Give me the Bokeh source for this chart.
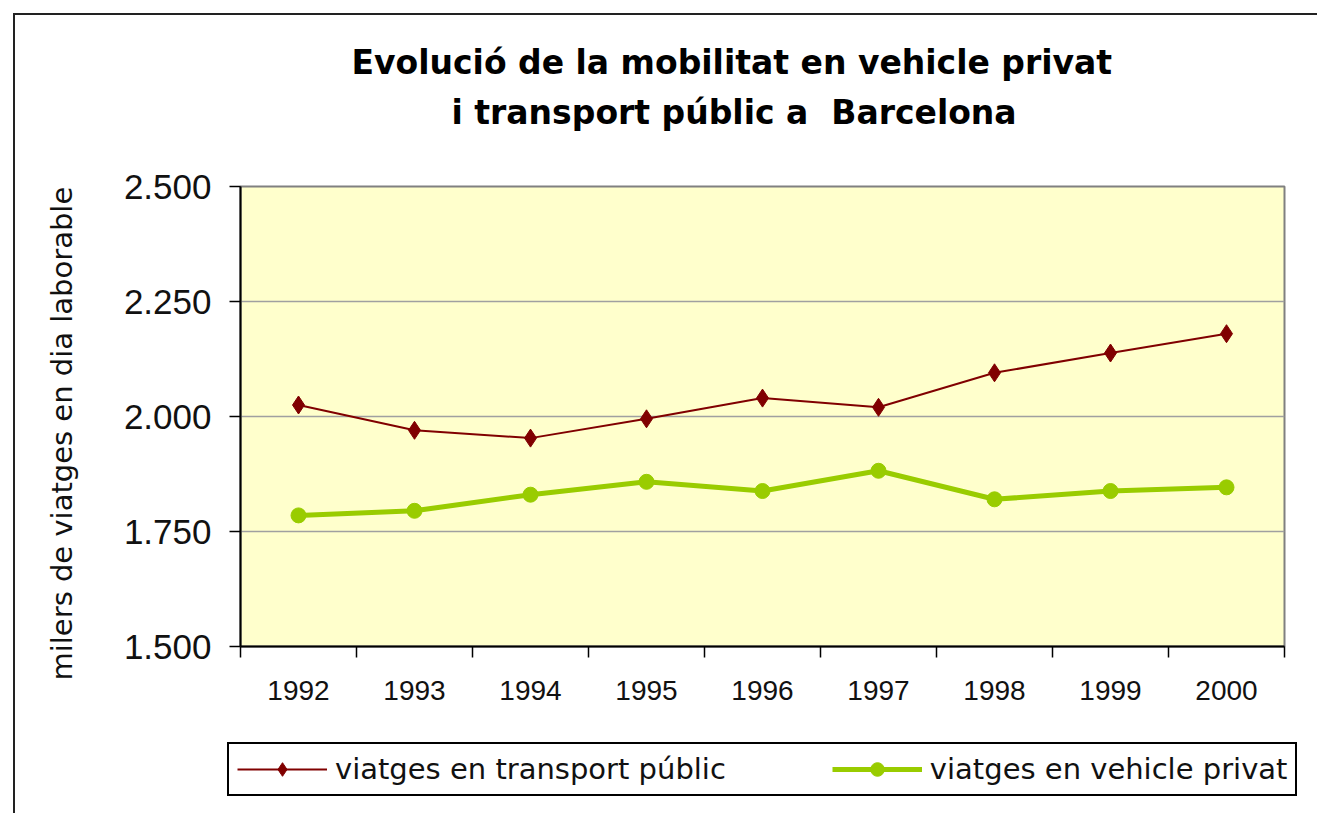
from bokeh.plotting import figure
from bokeh.layouts import column
from bokeh.models import FixedTicker, Legend, LegendItem, Range1d, Title
from bokeh.embed import file_html
from bokeh.resources import INLINE

# ---- data ----
years = [1992, 1993, 1994, 1995, 1996, 1997, 1998, 1999, 2000]
transport_public = [2025, 1970, 1953, 1995, 2040, 2020, 2095, 2138, 2180]
vehicle_privat = [1785, 1795, 1830, 1858, 1838, 1882, 1820, 1838, 1846]
y_ticks = [1500, 1750, 2000, 2250, 2500]
y_tick_labels = ["1.500", "1.750", "2.000", "2.250", "2.500"]
title_lines = ["Evolució de la mobilitat en vehicle privat",
               "i transport públic a\u00a0 Barcelona"]
y_label = "milers de viatges en dia laborable"
series_names = ["viatges en transport públic", "viatges en vehicle privat"]

COL_PUB = "#800000"
COL_PRIV = "#99CC00"

# ---- main figure ----
p = figure(width=1317, height=720,
           x_range=Range1d(years[0] - 0.5, years[-1] + 0.5),
           y_range=Range1d(y_ticks[0], y_ticks[-1]),
           output_backend="svg", toolbar_location=None,
           min_border_left=240, min_border_right=33,
           min_border_top=186, min_border_bottom=74,
           background_fill_color="#FFFFCC", border_fill_alpha=0,
           outline_line_color="#808080", outline_line_width=2)
p.frame_align = False

# y axis
yt = FixedTicker(ticks=y_ticks, minor_ticks=[])
p.yaxis.ticker = yt
p.yaxis.major_label_overrides = {t: l for t, l in zip(y_ticks, y_tick_labels)}
p.yaxis.axis_line_color = "black"
p.yaxis.axis_line_width = 2
p.yaxis.major_tick_out = 11
p.yaxis.major_tick_in = 0
p.yaxis.major_tick_line_width = 1.5
p.yaxis.minor_tick_line_color = None
p.yaxis.major_label_standoff = 18
p.yaxis.major_label_text_font = "Liberation Sans"
p.yaxis.major_label_text_font_size = "35px"
p.yaxis.major_label_text_color = "#111111"

# x axis with ticks on category boundaries
boundaries = [y - 0.5 for y in years] + [years[-1] + 0.5]
p.xaxis.ticker = FixedTicker(ticks=years, minor_ticks=boundaries)
p.xaxis.axis_line_color = "black"
p.xaxis.axis_line_width = 2
p.xaxis.major_tick_line_color = None
p.xaxis.major_tick_out = 11
p.xaxis.major_tick_in = 0
p.xaxis.minor_tick_out = 11
p.xaxis.minor_tick_in = 0
p.xaxis.minor_tick_line_color = "black"
p.xaxis.minor_tick_line_width = 1.5
p.xaxis.major_label_standoff = 23
p.xaxis.major_label_text_font = "Liberation Sans"
p.xaxis.major_label_text_font_size = "28px"
p.xaxis.major_label_text_color = "#111111"

# grid
p.xgrid.visible = False
p.ygrid.ticker = yt
p.ygrid.grid_line_color = "#a0a0a0"
p.ygrid.grid_line_width = 1.5

# ---- series ----
p.line(years, transport_public, line_color=COL_PUB, line_width=2)
p.scatter(years, transport_public, marker="diamond", size=18,
          fill_color=COL_PUB, line_color=COL_PUB)
p.line(years, vehicle_privat, line_color=COL_PRIV, line_width=5)
p.scatter(years, vehicle_privat, marker="circle", size=15,
          fill_color=COL_PRIV, line_color=COL_PRIV)

# ---- titles (stacked upward from the frame) ----
p.add_layout(Title(text=" ", text_font_size="10px", standoff=33), "above")
p.add_layout(Title(text=title_lines[1], align="left", offset=211, standoff=18,
                   text_font="DejaVu Sans", text_font_style="bold",
                   text_font_size="33px", text_color="black"), "above")
p.add_layout(Title(text=title_lines[0], align="left", offset=111, standoff=0,
                   text_font="DejaVu Sans", text_font_style="bold",
                   text_font_size="33px", text_color="black"), "above")

# ---- y axis title ----
p.add_layout(Title(text=y_label, align="left", offset=-34, vertical_align="top",
                   standoff=80, text_font="DejaVu Sans", text_font_style="normal",
                   text_font_size="29px", text_color="#111111"), "left")

# ---- legend strip (separate, frameless figure) ----
pl = figure(width=1317, height=93, output_backend="svg", toolbar_location=None,
            x_range=Range1d(0, 1), y_range=Range1d(0, 1),
            x_axis_type=None, y_axis_type=None,
            min_border_left=0, min_border_right=0, min_border_top=0, min_border_bottom=0,
            border_fill_alpha=0, background_fill_alpha=0, outline_line_color=None)
pl.frame_align = False
pl.xgrid.visible = False
pl.ygrid.visible = False
nan = float("nan")
g1 = [pl.line([nan], [nan], line_color=COL_PUB, line_width=2),
      pl.scatter([nan], [nan], marker="diamond", size=18, fill_color=COL_PUB, line_color=COL_PUB)]
g2 = [pl.line([nan], [nan], line_color=COL_PRIV, line_width=5),
      pl.scatter([nan], [nan], marker="circle", size=15, fill_color=COL_PRIV, line_color=COL_PRIV)]
legend = Legend(items=[LegendItem(label=series_names[0], renderers=g1),
                       LegendItem(label=series_names[1], renderers=g2)],
                orientation="horizontal", location=(227, 17),
                padding=8, spacing=106, glyph_width=90, glyph_height=34,
                label_standoff=8, label_text_font="DejaVu Sans",
                label_text_font_size="29px", label_text_color="#111111",
                border_line_color="black", border_line_width=2, border_line_alpha=1,
                background_fill_color="white", background_fill_alpha=1, margin=0)
pl.add_layout(legend)

layout = column(p, pl, spacing=0,
                styles={"background": "linear-gradient(#222,#222) 13px 13px / 2px 3000px no-repeat, "
                                      "linear-gradient(#222,#222) 13px 13px / 3000px 2px no-repeat, #ffffff"})

open("out.html", "w").write(file_html(layout, INLINE))
